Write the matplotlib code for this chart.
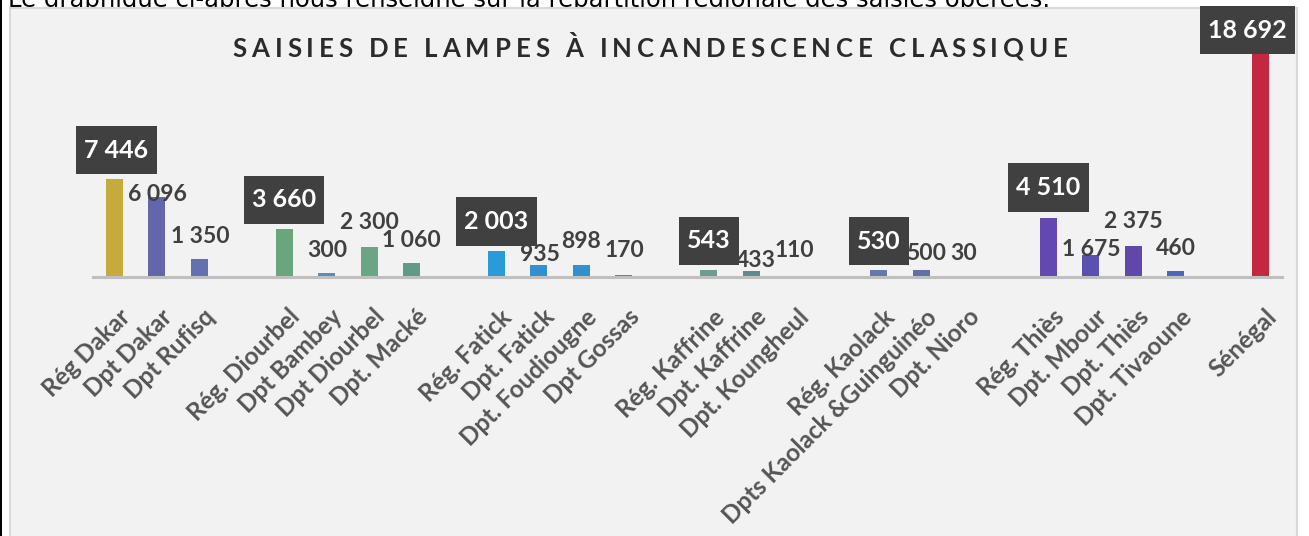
import numpy as np
import matplotlib
matplotlib.use("Agg")
import matplotlib.pyplot as plt
from matplotlib.patches import Rectangle
from matplotlib.transforms import ScaledTranslation
from matplotlib.font_manager import FontProperties

# categories as in the sheet, blank rows separate the regions
categories = ["Rég Dakar", "Dpt Dakar", "Dpt Rufisq", "",
              "Rég. Diourbel", "Dpt Bambey", "Dpt Diourbel", "Dpt. Macké", "",
              "Rég. Fatick", "Dpt. Fatick", "Dpt. Foudiougne", "Dpt Gossas", "",
              "Rég. Kaffrine", "Dpt. Kaffrine", "Dpt. Koungheul", "",
              "Rég. Kaolack", "Dpts Kaolack &Guinguinéo", "Dpt. Nioro", "",
              "Rég. Thiès", "Dpt. Mbour", "Dpt. Thiès", "Dpt. Tivaoune", "",
              "Sénégal"]
values = [7446, 6096, 1350, None,
          3660, 300, 2300, 1060, None,
          2003, 935, 898, 170, None,
          543, 433, 110, None,
          530, 500, 30, None,
          4510, 1675, 2375, 460, None,
          18692]

title = "SAISIES DE LAMPES À INCANDESCENCE CLASSIQUE"
intro = "Le graphique ci-après nous renseigne sur la répartition régionale des saisies opérées."

colors = {
    "Rég Dakar": "#c6aa3c", "Dpt Dakar": "#6466aa", "Dpt Rufisq": "#6470b0",
    "Rég. Diourbel": "#6aa67c", "Dpt Bambey": "#5a8cb4", "Dpt Diourbel": "#6aa684", "Dpt. Macké": "#5f9c88",
    "Rég. Fatick": "#2a9ad8", "Dpt. Fatick": "#3090d2", "Dpt. Foudiougne": "#3490cc", "Dpt Gossas": "#2a8ed6",
    "Rég. Kaffrine": "#6e9c90", "Dpt. Kaffrine": "#5e8c8e", "Dpt. Koungheul": "#8aa070",
    "Rég. Kaolack": "#6478aa", "Dpts Kaolack &Guinguinéo": "#6070a8", "Dpt. Nioro": "#7080a8",
    "Rég. Thiès": "#6248b0", "Dpt. Mbour": "#5a50b0", "Dpt. Thiès": "#6048aa", "Dpt. Tivaoune": "#4a68b8",
    "Sénégal": "#c42840",
}
# label offsets (pixels) from the bar top to the label centre
offsets = {
    "Rég Dakar": (2, 29), "Dpt Dakar": (1, 2), "Dpt Rufisq": (1, 23),
    "Rég. Diourbel": (0, 29), "Dpt Bambey": (1, 23), "Dpt Diourbel": (0, 24), "Dpt. Macké": (0, 23),
    "Rég. Fatick": (0, 29), "Dpt. Fatick": (1, 10), "Dpt. Foudiougne": (0, 24), "Dpt Gossas": (1, 24),
    "Rég. Kaffrine": (0, 29), "Dpt. Kaffrine": (5, 11), "Dpt. Koungheul": (1, 25),
    "Rég. Kaolack": (0, 29), "Dpts Kaolack &Guinguinéo": (5, 17), "Dpt. Nioro": (0, 23),
    "Rég. Thiès": (0, 30), "Dpt. Mbour": (0, 5), "Dpt. Thiès": (0, 24), "Dpt. Tivaoune": (0, 22),
    "Sénégal": (-13, 1),
}

W, H = 1309, 536
fig = plt.figure(figsize=(W / 100, H / 100), dpi=100)
fig.patch.set_facecolor("white")

# page text cut by the chart frame
fig.text(8 / W, 1 - 7 / H, intro, fontsize=17.5, family="DejaVu Sans", color="black",
         va="baseline", ha="left", zorder=0)
fig.add_artist(Rectangle((10 / W, -0.05), 1287 / W, 1.05 - 8 / H, transform=fig.transFigure,
                         facecolor="#f2f2f2", edgecolor="#d9d9d9", lw=1.5, zorder=1))
fig.add_artist(Rectangle((0, 0), 2 / W, 1, transform=fig.transFigure, facecolor="black",
                         edgecolor="none", zorder=1))

ax = fig.add_axes([93 / W, (H - 277) / H, (1282 - 93) / W, (277 - 8) / H], zorder=2)
ax.patch.set_visible(False)

x = np.arange(len(categories))
y = np.array([np.nan if v is None else v for v in values], dtype=float)
bar_cols = [colors.get(c, "none") for c in categories]
ax.bar(x, np.nan_to_num(y), width=0.4, color=bar_cols, zorder=2)

ax.set_xlim(-0.5, len(categories) - 0.5)
ax.set_ylim(0, 20450)
ax.set_yticks([])
for s in ["left", "right", "top"]:
    ax.spines[s].set_visible(False)
ax.spines["bottom"].set_color("#bfbfbf")
ax.spines["bottom"].set_linewidth(2.2)
ax.tick_params(axis="x", length=0, pad=6)
ax.set_xticks(x)
ax.set_xticklabels(categories, rotation=45, ha="right", va="center", rotation_mode="anchor",
                   family="Lato", fontweight="bold", fontsize=17.5, color="#555555")
for lab in ax.get_xticklabels():
    lab.set_transform(lab.get_transform() + ScaledTranslation(0.12, -0.28, fig.dpi_scale_trans))

for xi, c, v in zip(x, categories, values):
    if v is None:
        continue
    txt = f"{v:,}".replace(",", " ")
    dx, dy = offsets[c]
    boxed = c.startswith("Rég") or c == "Sénégal"
    if boxed:
        ax.annotate(txt, (xi, v), xytext=(dx, dy), textcoords="offset pixels",
                    ha="center", va="center", fontsize=18, fontweight="bold", family="Lato",
                    color="white", zorder=5, annotation_clip=False,
                    bbox=dict(boxstyle="square,pad=0.33", fc="#404040", ec="none",
                              mutation_aspect=1.55))
    else:
        ax.annotate(txt, (xi, v), xytext=(dx, dy), textcoords="offset pixels",
                    ha="center", va="center", fontsize=16.5, fontweight="bold", family="Lato",
                    color="#404040", zorder=5, annotation_clip=False)

# title with wide letter spacing, drawn char by char
renderer = fig.canvas.get_renderer()
prop = FontProperties(family="Lato", weight="bold", size=18.5)
def adv(ch):
    wx = renderer.get_text_width_height_descent("X" + ch, prop, ismath=False)[0]
    return wx - renderer.get_text_width_height_descent("X", prop, ismath=False)[0]
widths = [adv(ch) for ch in title]
track = (835 - sum(widths)) / (len(title) - 1)
xpos = 650 - 835 / 2
for ch, w in zip(title, widths):
    fig.text(xpos / W, (H - 57) / H, ch, fontproperties=prop, color="#2b2b2b",
             ha="left", va="baseline", zorder=3)
    xpos += w + track

fig.savefig("out.png", dpi=100)
